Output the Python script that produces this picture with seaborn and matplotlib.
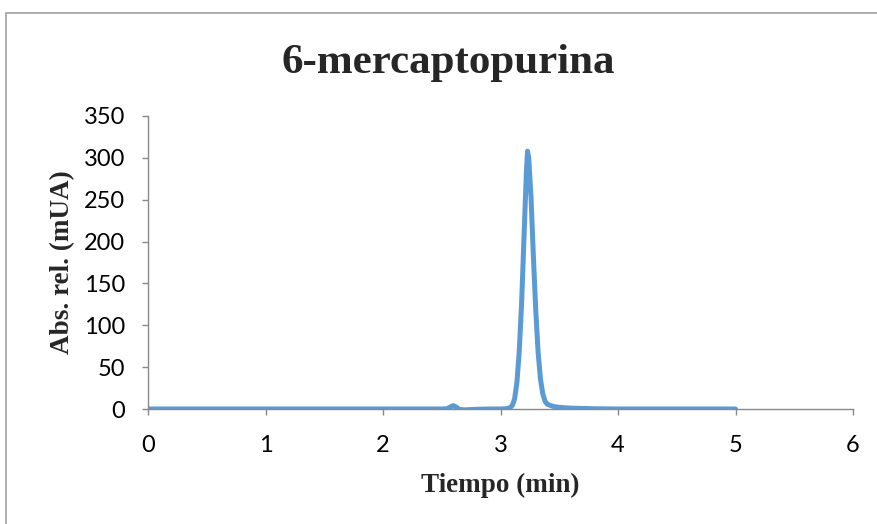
import matplotlib
matplotlib.use("Agg")
import matplotlib.pyplot as plt
import seaborn as sns
import pandas as pd

# chromatogram (time in min, absorbance in mUA)
tiempo = [0.0, 0.5, 1.0, 1.5, 2.0, 2.5, 2.55, 2.58, 2.60, 2.62, 2.65, 2.70, 2.80,
          2.90, 3.00, 3.05, 3.08, 3.10, 3.12, 3.14, 3.16, 3.18, 3.20, 3.22, 3.23,
          3.24, 3.26, 3.28, 3.30, 3.32, 3.34, 3.36, 3.38, 3.40, 3.45, 3.50, 3.60,
          3.80, 4.0, 4.5, 5.0]
absorbancia = [0, 0, 0, 0, 0, 0, 0.5, 3, 4, 2.5, -0.5, -1, -0.3,
               0, 0, 0.3, 1.5, 4, 12, 32, 70, 128, 205, 282, 308,
               300, 252, 182, 118, 68, 36, 18, 9, 5.5, 3, 2, 1,
               0.3, 0, 0, 0]
x_ticks = [0, 1, 2, 3, 4, 5, 6]
y_ticks = [0, 50, 100, 150, 200, 250, 300, 350]

df = pd.DataFrame({"Tiempo": tiempo, "Abs": absorbancia})

sns.set_theme(style="white")
plt.rcParams["font.family"] = ["Lato", "DejaVu Sans"]

fig = plt.figure(figsize=(8.77, 5.24), dpi=100)
ax = fig.add_axes([148 / 877, 1 - 409 / 524, 705 / 877, 293 / 524])

sns.lineplot(data=df, x="Tiempo", y="Abs", ax=ax, color="#5B9BD5", linewidth=3.6)

ax.set_xlim(0, 6)
ax.set_ylim(0, 350)
ax.set_xticks(x_ticks)
ax.set_yticks(y_ticks)
ax.tick_params(axis="both", labelsize=17, colors="#000000", length=4.5, width=1,
               direction="out", color="#898989", pad=12)
ax.tick_params(axis="x", bottom=True, pad=14)
ax.tick_params(axis="y", left=True)
for side in ["top", "right"]:
    ax.spines[side].set_visible(False)
for side in ["left", "bottom"]:
    ax.spines[side].set_color("#898989")
    ax.spines[side].set_linewidth(1)

serif = ["Liberation Serif", "DejaVu Serif"]
ax.set_xlabel("Tiempo (min)", fontsize=19.5, fontweight="bold", family=serif)
ax.set_ylabel("Abs. rel. (mUA)", fontsize=19.5, fontweight="bold", family=serif)
ax.xaxis.set_label_coords(0.5, (409 - 473) / 293)
ax.yaxis.set_label_coords((75 - 148) / 705, 0.5)
fig.text(448 / 877, 1 - 73 / 524, "6-mercaptopurina", ha="center", va="baseline",
         fontsize=31, fontweight="bold", family=serif)

# chart frame
fig.patches.append(plt.Rectangle((6 / 877, -0.1), 1.2, 1 - 13 / 524 + 0.1,
                                 transform=fig.transFigure, fill=False,
                                 edgecolor="#A0A0A0", linewidth=1.2))

fig.savefig("out.png", dpi=100)
